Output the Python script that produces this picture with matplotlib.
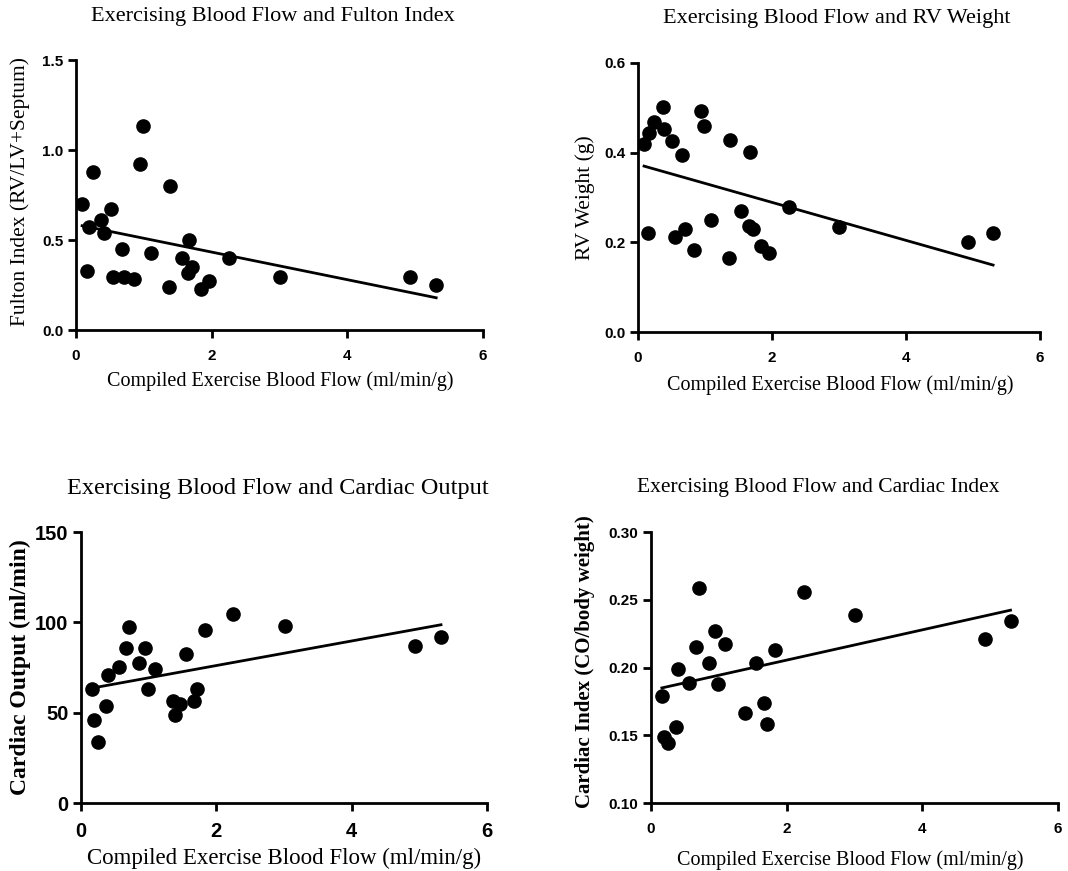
import matplotlib
matplotlib.use('Agg')

import matplotlib.pyplot as plt
import numpy as np

# ==============================================================================
#  1. Data
# ==============================================================================

# top-left: Fulton index
fulton_x = [0.09, 0.16, 0.19, 0.25, 0.37, 0.41, 0.51, 0.55, 0.68, 0.71, 0.85, 0.95, 0.99,
            1.10, 1.37, 1.38, 1.56, 1.65, 1.67, 1.71, 1.84, 1.96, 2.25, 3.01, 4.93, 5.31]
fulton_y = [0.698, 0.330, 0.574, 0.876, 0.609, 0.541, 0.672, 0.293, 0.450, 0.296, 0.283,
            0.922, 1.131, 0.428, 0.241, 0.798, 0.400, 0.319, 0.500, 0.350, 0.230, 0.272,
            0.398, 0.293, 0.293, 0.250]

# top-right: RV weight
rv_x = [0.09, 0.15, 0.17, 0.24, 0.37, 0.39, 0.51, 0.55, 0.66, 0.70, 0.84, 0.94, 0.98,
        1.09, 1.36, 1.37, 1.54, 1.65, 1.67, 1.71, 1.83, 1.96, 2.25, 3.00, 4.92, 5.30]
rv_y = [0.420, 0.221, 0.443, 0.468, 0.501, 0.452, 0.427, 0.211, 0.394, 0.230, 0.183,
        0.492, 0.459, 0.250, 0.164, 0.429, 0.271, 0.236, 0.401, 0.230, 0.192, 0.177,
        0.278, 0.235, 0.200, 0.221]

# bottom-left: cardiac output
co_x = [0.16, 0.19, 0.25, 0.37, 0.40, 0.56, 0.67, 0.71, 0.85, 0.94, 0.99, 1.10,
        1.36, 1.39, 1.46, 1.55, 1.67, 1.72, 1.83, 2.25, 3.01, 4.93, 5.32]
co_y = [63.1, 45.9, 33.9, 53.7, 71.0, 75.3, 85.8, 97.2, 77.7, 85.8, 62.9, 74.4,
        56.6, 48.9, 54.6, 82.7, 56.3, 62.9, 95.9, 104.6, 98.2, 86.7, 92.1]

# bottom-right: cardiac index
ci_x = [0.16, 0.19, 0.25, 0.37, 0.40, 0.56, 0.67, 0.71, 0.85, 0.94, 0.99, 1.09,
        1.38, 1.55, 1.67, 1.71, 1.83, 2.25, 3.00, 4.92, 5.30]
ci_y = [0.179, 0.149, 0.1445, 0.156, 0.199, 0.1886, 0.215, 0.259, 0.203, 0.227, 0.188,
        0.217, 0.1667, 0.203, 0.1736, 0.158, 0.213, 0.2555, 0.239, 0.221, 0.2346]

XLABEL = "Compiled Exercise Blood Flow (ml/min/g)"

# ==============================================================================
#  2. Layout helpers (pixel based, figure is 1068 x 871 @ 100 dpi)
# ==============================================================================

FIG_W, FIG_H = 1068, 871
SERIF = 'Liberation Serif'
SANS = 'Liberation Sans'


def px_rect(x0, y0, x1, y1):
    return [x0 / FIG_W, 1 - y1 / FIG_H, (x1 - x0) / FIG_W, (y1 - y0) / FIG_H]


def put_text(fig, x, y, s, **kw):
    fig.text(x / FIG_W, 1 - y / FIG_H, s, ha='center', va='center', **kw)


def draw_panel(ax, x, y, ylim, yticks, yfmt, tick_size, msize=9.5):
    """ scatter + linear regression line, Prism style axes """
    x = np.asarray(x)
    y = np.asarray(y)

    ax.plot(x, y, 'o', color='black', markersize=msize, zorder=3)

    # regression over the data range
    slope, inter = np.polyfit(x, y, 1)
    xs = np.array([x.min(), x.max()])
    ax.plot(xs, slope * xs + inter, color='black', lw=2, zorder=2)

    ax.set_xlim(0, 6)
    ax.set_ylim(*ylim)
    ax.set_xticks([0, 2, 4, 6])
    ax.set_yticks(yticks)
    ax.set_yticklabels([yfmt.format(v) for v in yticks])

    for side in ('top', 'right'):
        ax.spines[side].set_visible(False)
    for side in ('left', 'bottom'):
        ax.spines[side].set_linewidth(2)

    ax.tick_params(direction='out', length=6, width=2)
    ax.tick_params(axis='x', pad=8)
    ax.tick_params(axis='y', pad=3)
    for lbl in ax.get_xticklabels() + ax.get_yticklabels():
        lbl.set_fontfamily(SANS)
        lbl.set_fontweight('bold')
        lbl.set_fontsize(tick_size)


# ==============================================================================
#  3. Figure
# ==============================================================================

fig = plt.figure(figsize=(FIG_W / 100, FIG_H / 100), dpi=100)

# --- top-left
ax1 = fig.add_axes(px_rect(76, 60, 483, 330))
draw_panel(ax1, fulton_x, fulton_y, (0, 1.5), [0, 0.5, 1.0, 1.5], "{:.1f}", 11)
put_text(fig, 273, 16, "Exercising Blood Flow and Fulton Index", family=SERIF, fontsize=16)
put_text(fig, 280, 381, XLABEL, family=SERIF, fontsize=14.5)
put_text(fig, 20, 192, "Fulton Index (RV/LV+Septum)", family=SERIF, fontsize=15.5, rotation=90)

# --- top-right
ax2 = fig.add_axes(px_rect(638, 63, 1040, 332))
draw_panel(ax2, rv_x, rv_y, (0, 0.6), [0, 0.2, 0.4, 0.6], "{:.1f}", 11)
put_text(fig, 837, 18, "Exercising Blood Flow and RV Weight", family=SERIF, fontsize=16)
put_text(fig, 840, 385, XLABEL, family=SERIF, fontsize=14.5)
put_text(fig, 585, 198, "RV Weight (g)", family=SERIF, fontsize=15.5, rotation=90)

# --- bottom-left
ax3 = fig.add_axes(px_rect(81, 532, 487, 803))
draw_panel(ax3, co_x, co_y, (0, 150), [0, 50, 100, 150], "{:.0f}", 14.5)
put_text(fig, 278, 488, "Exercising Blood Flow and Cardiac Output", family=SERIF, fontsize=17.5)
put_text(fig, 284, 858, XLABEL, family=SERIF, fontsize=16.5)
put_text(fig, 20, 667, "Cardiac Output (ml/min)", family=SERIF, fontsize=17,
         fontweight='bold', rotation=90)

# --- bottom-right
ax4 = fig.add_axes(px_rect(651, 532, 1058, 803))
draw_panel(ax4, ci_x, ci_y, (0.10, 0.30), [0.10, 0.15, 0.20, 0.25, 0.30], "{:.2f}", 11)
put_text(fig, 818, 487, "Exercising Blood Flow and Cardiac Index", family=SERIF, fontsize=15.5)
put_text(fig, 850, 860, XLABEL, family=SERIF, fontsize=14.5)
put_text(fig, 585, 662, "Cardiac Index (CO/body weight)", family=SERIF, fontsize=15,
         fontweight='bold', rotation=90)

fig.savefig("out.png", dpi=100)
plt.close(fig)
